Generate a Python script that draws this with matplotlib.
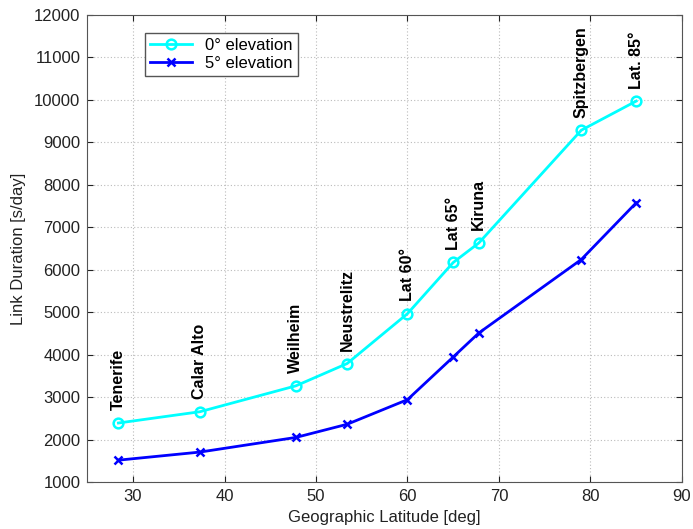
import matplotlib
matplotlib.use("Agg")
import matplotlib.pyplot as plt

plt.rcParams['font.family'] = ['Liberation Sans', 'DejaVu Sans']

stations = ["Tenerife", "Calar Alto", "Weilheim", "Neustrelitz", "Lat 60°",
            "Lat 65°", "Kiruna", "Spitzbergen", "Lat. 85°"]
latitude = [28.4, 37.3, 47.8, 53.4, 60.0, 65.0, 67.8, 79.0, 85.0]
dur_0deg = [2390, 2655, 3265, 3790, 4965, 6170, 6630, 9285, 9970]
dur_5deg = [1515, 1705, 2050, 2360, 2940, 3945, 4510, 6240, 7575]

xticks = [30, 40, 50, 60, 70, 80, 90]
yticks = list(range(1000, 12001, 1000))

fig = plt.figure(figsize=(6.93, 5.29), dpi=100)
ax = fig.add_axes([0.126, 0.0888, 0.858, 0.883])

ax.plot(latitude, dur_0deg, color=(0, 1, 1), lw=2, marker='o', ms=7,
        mfc='none', mec=(0, 1, 1), mew=1.8, label="0° elevation")
ax.plot(latitude, dur_5deg, color=(0, 0, 1), lw=2, marker='x', ms=6,
        mec=(0, 0, 1), mew=1.8, label="5° elevation")

for name, x, y in zip(stations, latitude, dur_0deg):
    ax.annotate(name, (x, y), xytext=(0, 9), textcoords='offset points',
                rotation=90, ha='center', va='bottom', fontsize=11.5,
                fontweight='bold')

ax.set_xlim(25, 90)
ax.set_ylim(1000, 12000)
ax.set_xticks(xticks)
ax.set_yticks(yticks)
ax.tick_params(direction='in', top=True, right=True, labelsize=12,
               colors='#222222', length=4, pad=5)
for s in ax.spines.values():
    s.set_color('#555555')
ax.grid(True, linestyle=(0, (1, 2)), color='#bbbbbb', lw=0.8)

ax.set_xlabel("Geographic Latitude [deg]", fontsize=12, labelpad=4,
              color='#222222')
ax.set_ylabel("Link Duration [s/day]", fontsize=12, labelpad=6,
              color='#222222')

leg = ax.legend(loc='upper left', bbox_to_anchor=(0.083, 0.98), fontsize=12,
                fancybox=False, edgecolor='#555555', framealpha=1,
                handlelength=2.5, borderpad=0.3, labelspacing=0.2)
leg.get_frame().set_linewidth(1)

fig.savefig("out.png", dpi=100)
